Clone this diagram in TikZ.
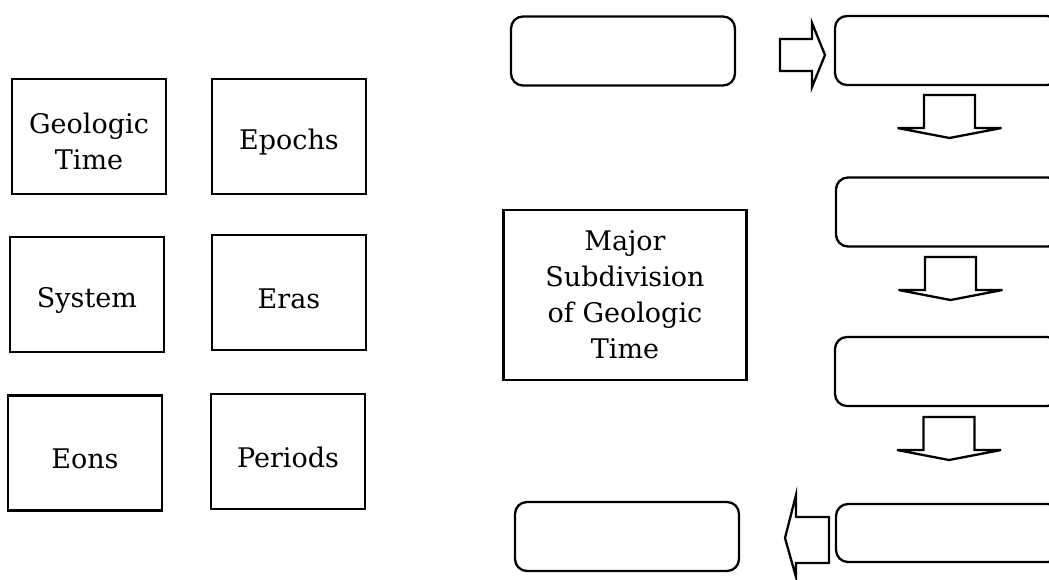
\documentclass[tikz,border=0pt]{standalone}
\usepackage{fontspec}
\setmainfont{DejaVu Serif}
\begin{document}
\begin{tikzpicture}[x=1pt,y=-1pt,
  sqbox/.style={draw, line width=2.3pt, rectangle, minimum width=154pt, minimum height=115pt, inner sep=0pt},
  bigbox/.style={draw, line width=2.3pt, rectangle, minimum width=243pt, minimum height=170pt, inner sep=0pt},
  rbox/.style={draw, line width=2.3pt, rectangle, rounded corners=12pt, minimum width=224pt, minimum height=69pt, inner sep=0pt},
  lbl/.style={align=center, inner sep=0pt, font=\fontsize{27}{36}\selectfont},
  blockarrow/.style={draw, line width=2.3pt, line join=miter, fill=white},
  downarrow/.pic={\draw[blockarrow] (-25.5,0) -- (25.5,0) -- (25.5,33) -- (52,33) -- (0,43) -- (-52,33) -- (-25.5,33) -- cycle;}
]
\useasboundingbox (0,0) rectangle (1049,579);
\clip (0,0) rectangle (1049,579);

% term boxes on the left
\node[sqbox] (geo) at (89,136.5) {};
\node[lbl] at ([yshift=-5pt]geo.center) {Geologic\\Time};
\node[sqbox] (epochs) at (289,136.5) {};
\node[lbl] at ([yshift=-6pt]epochs.center) {Epochs};
\node[sqbox] (system) at (87,294.5) {};
\node[lbl] at ([yshift=-6pt]system.center) {System};
\node[sqbox] (eras) at (289,292.5) {};
\node[lbl] at ([yshift=-6pt]eras.center) {Eras};
\node[sqbox] (eons) at (85,453) {};
\node[lbl] at ([yshift=-6pt]eons.center) {Eons};
\node[sqbox] (periods) at (288,451.5) {};
\node[lbl] at ([yshift=-6pt]periods.center) {Periods};

% central title box
\node[bigbox] (major) at (625,295) {};
\node[lbl] at (major.center) {Major\\Subdivision\\of Geologic\\Time};

% blank sequence boxes
\node[rbox] (s0) at (623,51) {};
\node[rbox] (s1) at (947,50.5) {};
\node[rbox] (s2) at (948,212) {};
\node[rbox] (s3) at (947,371.5) {};
\node[rbox, minimum height=58pt] (s4) at (948,533) {};
\node[rbox] (s5) at (627,536.5) {};

% block arrows between the blank boxes
\draw[blockarrow] (780,39) -- (812,39) -- (812,23) -- (825,55) -- (812,87) -- (812,71) -- (780,71) -- cycle;
\pic at (949.5,95) {downarrow};
\pic at (950.5,257) {downarrow};
\pic at (949,417) {downarrow};
\draw[blockarrow] (829,517) -- (796,517) -- (796,495) -- (785,538) -- (796,577) -- (796,563) -- (829,563) -- cycle;
\end{tikzpicture}
\end{document}
